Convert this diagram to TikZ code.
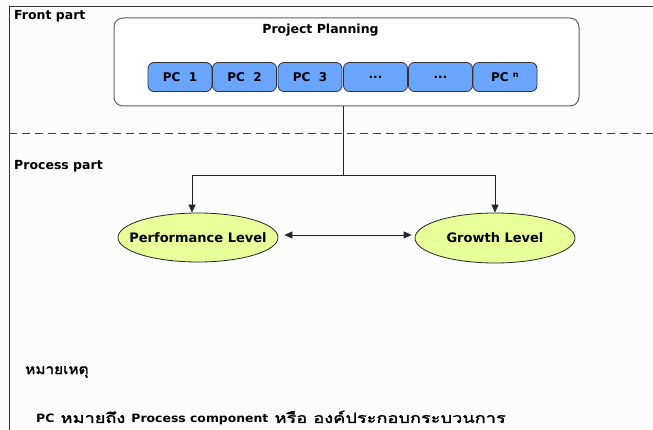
\documentclass[tikz,border=0pt]{standalone}
\usepackage{fontspec}
\setmainfont{DejaVu Sans}
\newfontfamily\thaifont[Script=Thai, FakeBold=1.8, FakeStretch=1.3]{Loma}
\newfontfamily\thainote[Script=Thai, FakeBold=1.8, FakeStretch=1.1]{Loma}
\newfontfamily\latnote[FakeStretch=1.08]{DejaVu Sans}
\usetikzlibrary{arrows.meta,shapes.geometric}
\definecolor{pcblue}{HTML}{6AA5FF}
\definecolor{ellfill}{HTML}{E8FF99}
\definecolor{boxgray}{HTML}{606060}
\tikzset{
  lbl/.style={font=\fontsize{12.5}{14}\selectfont\bfseries, inner sep=0pt},
  pcbox/.style={draw=black!80, fill=pcblue, rounded corners=6pt, minimum width=64pt, minimum height=29pt, line width=0.8pt, font=\fontsize{12}{14}\selectfont\bfseries, inner sep=0pt},
  lvl/.style={ellipse, draw=black!85, fill=ellfill, minimum width=160pt, minimum height=49pt, line width=0.8pt, inner sep=0pt},
  lvltext/.style={font=\fontsize{13}{15}\selectfont\bfseries, inner sep=0pt},
  conn/.style={line width=0.8pt, black!85},
  tip/.style={-{Triangle[length=8pt,width=7pt]}},
  thai/.style={font=\fontsize{14}{17}\thaifont, inner sep=0pt, anchor=west}
}
\newcommand{\lat}[1]{{\fontsize{11.5}{17}\latnote\bfseries #1}}
\begin{document}
\begin{tikzpicture}[x=1pt,y=-1pt]
\useasboundingbox (0,0) rectangle (653,430);
\fill[white!99!black] (0,0) rectangle (653,430);
% outer frame
\draw[line width=1pt, black!80] (9,430) -- (9,7) -- (653,7);
% section labels
\node[lbl, anchor=west] (front) at (14,16) {Front part};
\node[lbl, anchor=west] (proc) at (14,166) {Process part};
% dashed separator
\draw[line width=1pt, black!75, dash pattern=on 8pt off 5pt] (9,134) -- (653,134);
% project planning box
\node[draw=boxgray, fill=white, rounded corners=9pt, minimum width=465pt, minimum height=88pt, line width=1pt] (pp) at (346.5,62) {};
\node[lbl] (ptitle) at (320.5,30) {Project Planning};
\node[pcbox] (pc1) at (180,77) {PC\ \ 1};
\node[pcbox] (pc2) at (244.5,77) {PC\ \ 2};
\node[pcbox] (pc3) at (310,77) {PC\ \ 3};
\node[pcbox] (pcd1) at (375.5,77) {...};
\node[pcbox] (pcd2) at (440.5,77) {...};
\node[pcbox] (pcn) at (505,77) {PC\ \textsuperscript{n}};
% levels
\node[lvl] (perf) at (198,237.5) {};
\node[lvltext] (perft) at (perf.center) {Performance Level};
\node[lvl, minimum height=50pt] (grow) at (495,238) {};
\node[lvltext] (growt) at (grow.center) {Growth Level};
% connectors
\coordinate (j) at (343,175);
\coordinate (jl) at (192,175);
\coordinate (jr) at (495,175);
\draw[conn] (pp.south -| j) -- (j);
\draw[conn] (jl) -- (jr);
\draw[conn, tip] (jl) -- (jl |- perf.north);
\draw[conn, tip] (jr) -- (grow.north);
\draw[conn, {Triangle[length=8pt,width=7pt]}-{Triangle[length=8pt,width=7pt]}, shorten <=6pt, shorten >=3pt] (perf.east |- 0,235) -- (grow.west |- 0,235);
% notes
\node[thai, font=\fontsize{14}{17}\thainote] (note) at (25,372) {หมายเหตุ};
\node[thai] (def) at (36,418) {\lat{PC} หมายถึง \lat{Process component} หรือ องค์ประกอบกระบวนการ};
\end{tikzpicture}
\end{document}
